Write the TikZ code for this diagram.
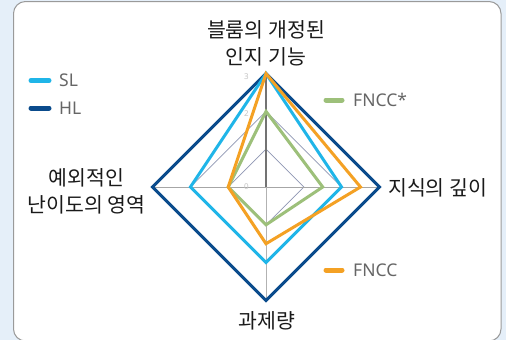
\documentclass[tikz,border=0pt]{standalone}
\usepackage{fontspec}
\setmainfont{Noto Sans CJK KR}
\newfontfamily\legfont{Noto Sans}
\definecolor{bgblue}{HTML}{E5EFF9}
\definecolor{framegray}{HTML}{9A9A9A}
\definecolor{slc}{HTML}{1FB5E8}
\definecolor{hlc}{HTML}{0A4B8C}
\definecolor{fnc}{HTML}{F4A124}
\definecolor{fnsc}{HTML}{9DC07A}
\definecolor{gridc}{HTML}{8F97B3}
\definecolor{legtext}{HTML}{666666}
\definecolor{labtext}{HTML}{1A1A1A}
\definecolor{scaletext}{HTML}{C4C4C4}
\tikzset{
  series/.style={line width=3pt, line join=miter},
  gridline/.style={draw=gridc, line width=0.7pt},
  legline/.style={line width=5pt, line cap=round},
  legtxt/.style={anchor=west, text=legtext, font=\legfont\fontsize{17.5}{20}\selectfont, inner sep=0pt},
  axlabel/.style={text=labtext, font=\fontsize{20.5}{27}\selectfont, align=center, inner sep=0pt},
  scalelab/.style={text=scaletext, font=\legfont\fontsize{8}{9}\selectfont, inner sep=0pt}
}
\newcommand{\uu}{37.8}
\begin{document}
\begin{tikzpicture}[x=1pt,y=-1pt]
\useasboundingbox (0,0) rectangle (506,340);
\fill[bgblue] (0,0) rectangle (506,340);
\draw[draw=framegray, line width=1pt, fill=white, rounded corners=12pt] (13.5,1.5) rectangle (501,341);
\begin{scope}[shift={(266,187)}]
  % grid
  \draw[gridline] (0,-\uu) -- (\uu,0) -- (0,\uu) -- (-\uu,0) -- cycle;
  \draw[gridline] (0,-2*\uu) -- (2*\uu,0) -- (0,2*\uu) -- (-2*\uu,0) -- cycle;
  \draw[draw=gray!70, line width=1pt] (-3*\uu,0) -- (3*\uu,0);
  \draw[draw=gray!60, line width=1pt] (0,0) -- (0,3*\uu);
  \draw[draw=gray!110, line width=1.5pt] (0,0) -- (0,-3*\uu);
  % scale labels
  \node[scalelab] (s3) at (-19.5,-3*\uu+3.5) {3};
  \node[scalelab] (s2) at (-19.5,-2*\uu+2) {2};
  \node[scalelab] (s0) at (-19.5,0) {0};
  % series
  \draw[series, hlc] (0,-3*\uu) -- (3*\uu,0) -- (0,3*\uu) -- (-3*\uu,0) -- cycle;
  \draw[series, slc] (0,-3*\uu) -- (2*\uu,0) -- (0,2*\uu) -- (-2*\uu,0) -- cycle;
  \draw[series, fnsc] (0,-2*\uu) -- (1.5*\uu,0) -- (0,1*\uu) -- (-1*\uu,0) -- cycle;
  \draw[series, fnc] (0,-3*\uu) -- (2.5*\uu,0) -- (0,1.5*\uu) -- (-1*\uu,0) -- cycle;
\end{scope}
% axis labels
\node[axlabel] (top) at (266,43) {블룸의 개정된\\인지 기능};
\node[axlabel, anchor=west] (right) at (388,187.5) {지식의 깊이};
\node[axlabel] (left) at (86.5,191) {예외적인\\난이도의 영역};
\node[axlabel] (bottom) at (267,321) {과제량};
% legend
\draw[legline, slc] (31,80.5) -- (49,80.5);
\node[legtxt] (lsl) at (59,80.5) {SL};
\draw[legline, hlc] (31,108) -- (49,108);
\node[legtxt] (lhl) at (59,108) {HL};
\draw[legline, fnsc] (326,100) -- (342,100);
\node[legtxt] (lfns) at (353,100) {FNCC*};
\draw[legline, fnc] (326,270) -- (342,270);
\node[legtxt] (lfn) at (353,270) {FNCC};
\end{tikzpicture}
\end{document}
